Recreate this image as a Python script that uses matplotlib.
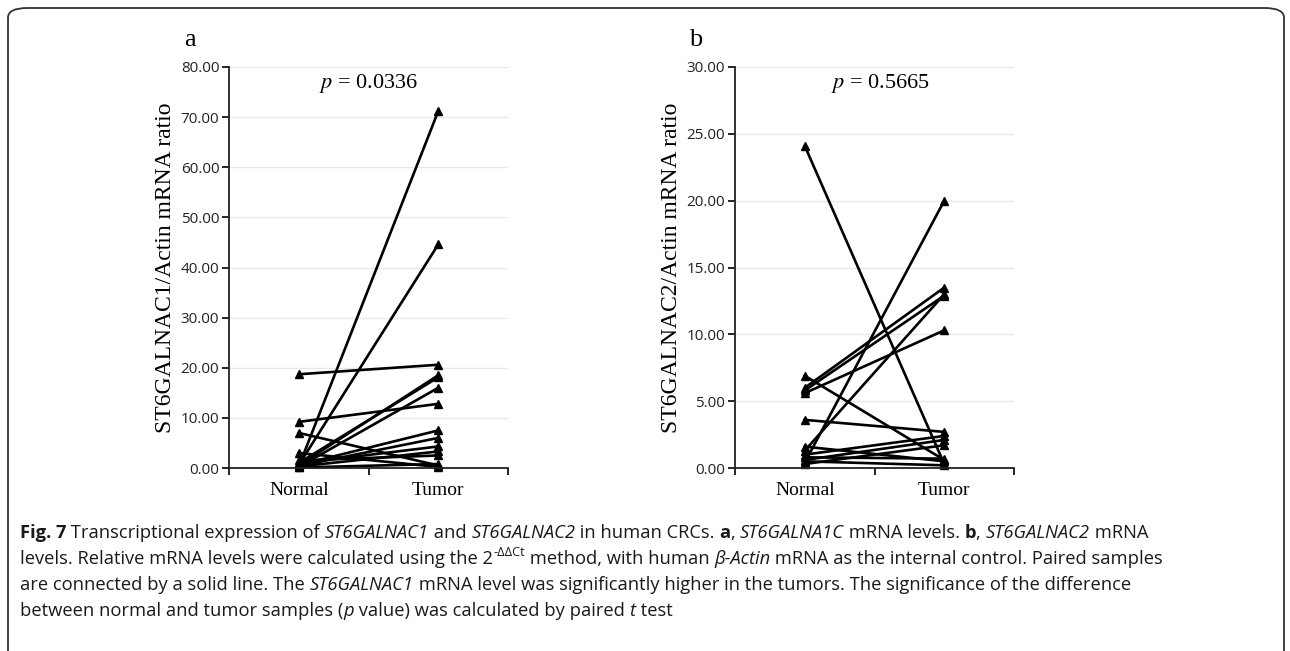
import matplotlib
matplotlib.use('Agg')
import matplotlib.pyplot as plt
from matplotlib.patches import FancyBboxPatch
from matplotlib.ticker import FixedLocator

# paired samples, panel a (ST6GALNAC1)
normal_a = [0.3, 0.6, 18.7, 9.2, 7.0, 3.0, 0.5, 1.0, 0.2, 0.6, 0.4, 0.9, 0.3, 0.1, 1.5]
tumor_a = [71.2, 44.6, 20.6, 12.8, 0.5, 0.2, 18.5, 18.1, 16.0, 7.5, 6.0, 4.3, 3.3, 0.8, 2.5]

# paired samples, panel b (ST6GALNAC2)
normal_b = [24.1, 0.4, 1.3, 6.0, 5.8, 5.6, 6.9, 3.6, 1.0, 0.6, 0.3, 1.6, 0.5, 0.8]
tumor_b = [0.3, 20.0, 13.0, 13.5, 12.9, 10.3, 0.6, 2.7, 2.4, 2.1, 1.7, 0.5, 0.2, 0.7]

groups = ['Normal', 'Tumor']
ylim_a, ystep_a = 80, 10
ylim_b, ystep_b = 30, 5
pval_a = '0.0336'
pval_b = '0.5665'

SERIF = 'Liberation Serif'
SANS = 'Open Sans'
plt.rcParams['mathtext.fontset'] = 'stix'

fig = plt.figure(figsize=(12.9, 6.51), dpi=100)
W, H = 1290.0, 651.0

# outer frame
frame = FancyBboxPatch((8 / W, -0.05), 1276 / W, 1 - 8 / H + 0.05,
                       boxstyle='round,pad=0,rounding_size=0.015',
                       transform=fig.transFigure, fill=False,
                       edgecolor='#333333', linewidth=1.3)
fig.patches.append(frame)


def paired_panel(left, normal, tumor, ymax, ystep, ylabel, letter, pval, px):
    ax = fig.add_axes([left, 1 - 468 / H, 279 / W, 401 / H])
    for n, t in zip(normal, tumor):
        ax.plot([0.5, 1.5], [n, t], '-^', color='black', lw=1.9,
                markersize=5.5, clip_on=False)
    ax.set_xlim(0, 2)
    ax.set_ylim(0, ymax)
    yt = [i * ystep for i in range(int(ymax / ystep) + 1)]
    ax.set_yticks(yt)
    ax.set_yticklabels(['%.2f' % v for v in yt], fontname=SANS, fontsize=11,
                       color='#222222')
    for v in yt[1:]:
        ax.axhline(v, color='#e8e8e8', lw=1, zorder=0)
    ax.set_xticks([0.5, 1.5])
    ax.set_xticklabels(groups, fontname=SERIF, fontsize=14)
    ax.xaxis.set_minor_locator(FixedLocator([0, 1, 2]))
    ax.tick_params(axis='x', which='major', length=0, pad=10)
    ax.tick_params(axis='x', which='minor', length=5, width=1.2)
    ax.tick_params(axis='y', length=5, width=1.2, pad=2)
    for s in ('top', 'right'):
        ax.spines[s].set_visible(False)
    for s in ('left', 'bottom'):
        ax.spines[s].set_linewidth(1.3)
        ax.spines[s].set_color('#222222')
    ax.set_ylabel(ylabel, fontname=SERIF, fontsize=17, labelpad=3)
    ax.text(px, ymax * 0.96, r'$p$ = ' + pval, ha='center', va='center',
            fontname=SERIF, fontsize=16)
    fig.text(left - 39 / W, 1 - 40 / H, letter, fontname=SERIF, fontsize=19,
             ha='center', va='center')
    return ax


paired_panel(229 / W, normal_a, tumor_a, ylim_a, ystep_a,
             'ST6GALNAC1/Actin mRNA ratio', 'a', pval_a, 1.0)
paired_panel(735 / W, normal_b, tumor_b, ylim_b, ystep_b,
             'ST6GALNAC2/Actin mRNA ratio', 'b', pval_b, 1.04)

# caption, drawn as runs of styled text
renderer = fig.canvas.get_renderer()
CAP = 13.2


def run_width(s, **kw):
    probe = fig.text(0, 0, s + '|', fontname=SANS, **kw)
    bar = fig.text(0, 0, '|', fontname=SANS, **kw)
    w = probe.get_window_extent(renderer).width - bar.get_window_extent(renderer).width
    probe.remove()
    bar.remove()
    return w


def put_line(y, runs):
    x = 20.0
    for s, style in runs:
        kw = dict(fontsize=CAP, color='#1a1a1a')
        dy = 0
        if style == 'b':
            kw['fontweight'] = 'bold'
        elif style == 'i':
            kw['fontstyle'] = 'italic'
        elif style == 'sup':
            kw['fontsize'] = CAP * 0.7
            dy = 8
        fig.text(x / W, 1 - (y - dy) / H, s, fontname=SANS, va='baseline', **kw)
        x += run_width(s, **kw)


lines = [
    [('Fig. 7', 'b'), (' Transcriptional expression of ', 'n'), ('ST6GALNAC1', 'i'),
     (' and ', 'n'), ('ST6GALNAC2', 'i'), (' in human CRCs. ', 'n'), ('a', 'b'),
     (', ', 'n'), ('ST6GALNA1C', 'i'), (' mRNA levels. ', 'n'), ('b', 'b'),
     (', ', 'n'), ('ST6GALNAC2', 'i'), (' mRNA', 'n')],
    [('levels. Relative mRNA levels were calculated using the 2', 'n'),
     ('-\u0394\u0394Ct', 'sup'), (' method, with human ', 'n'), ('\u03b2-Actin', 'i'),
     (' mRNA as the internal control. Paired samples', 'n')],
    [('are connected by a solid line. The ', 'n'), ('ST6GALNAC1', 'i'),
     (' mRNA level was significantly higher in the tumors. The significance of the difference', 'n')],
    [('between normal and tumor samples (', 'n'), ('p', 'i'),
     (' value) was calculated by paired ', 'n'), ('t', 'i'), (' test', 'n')],
]
for k, runs in enumerate(lines):
    put_line(538 + 26 * k, runs)

fig.savefig('out.png', dpi=100)
